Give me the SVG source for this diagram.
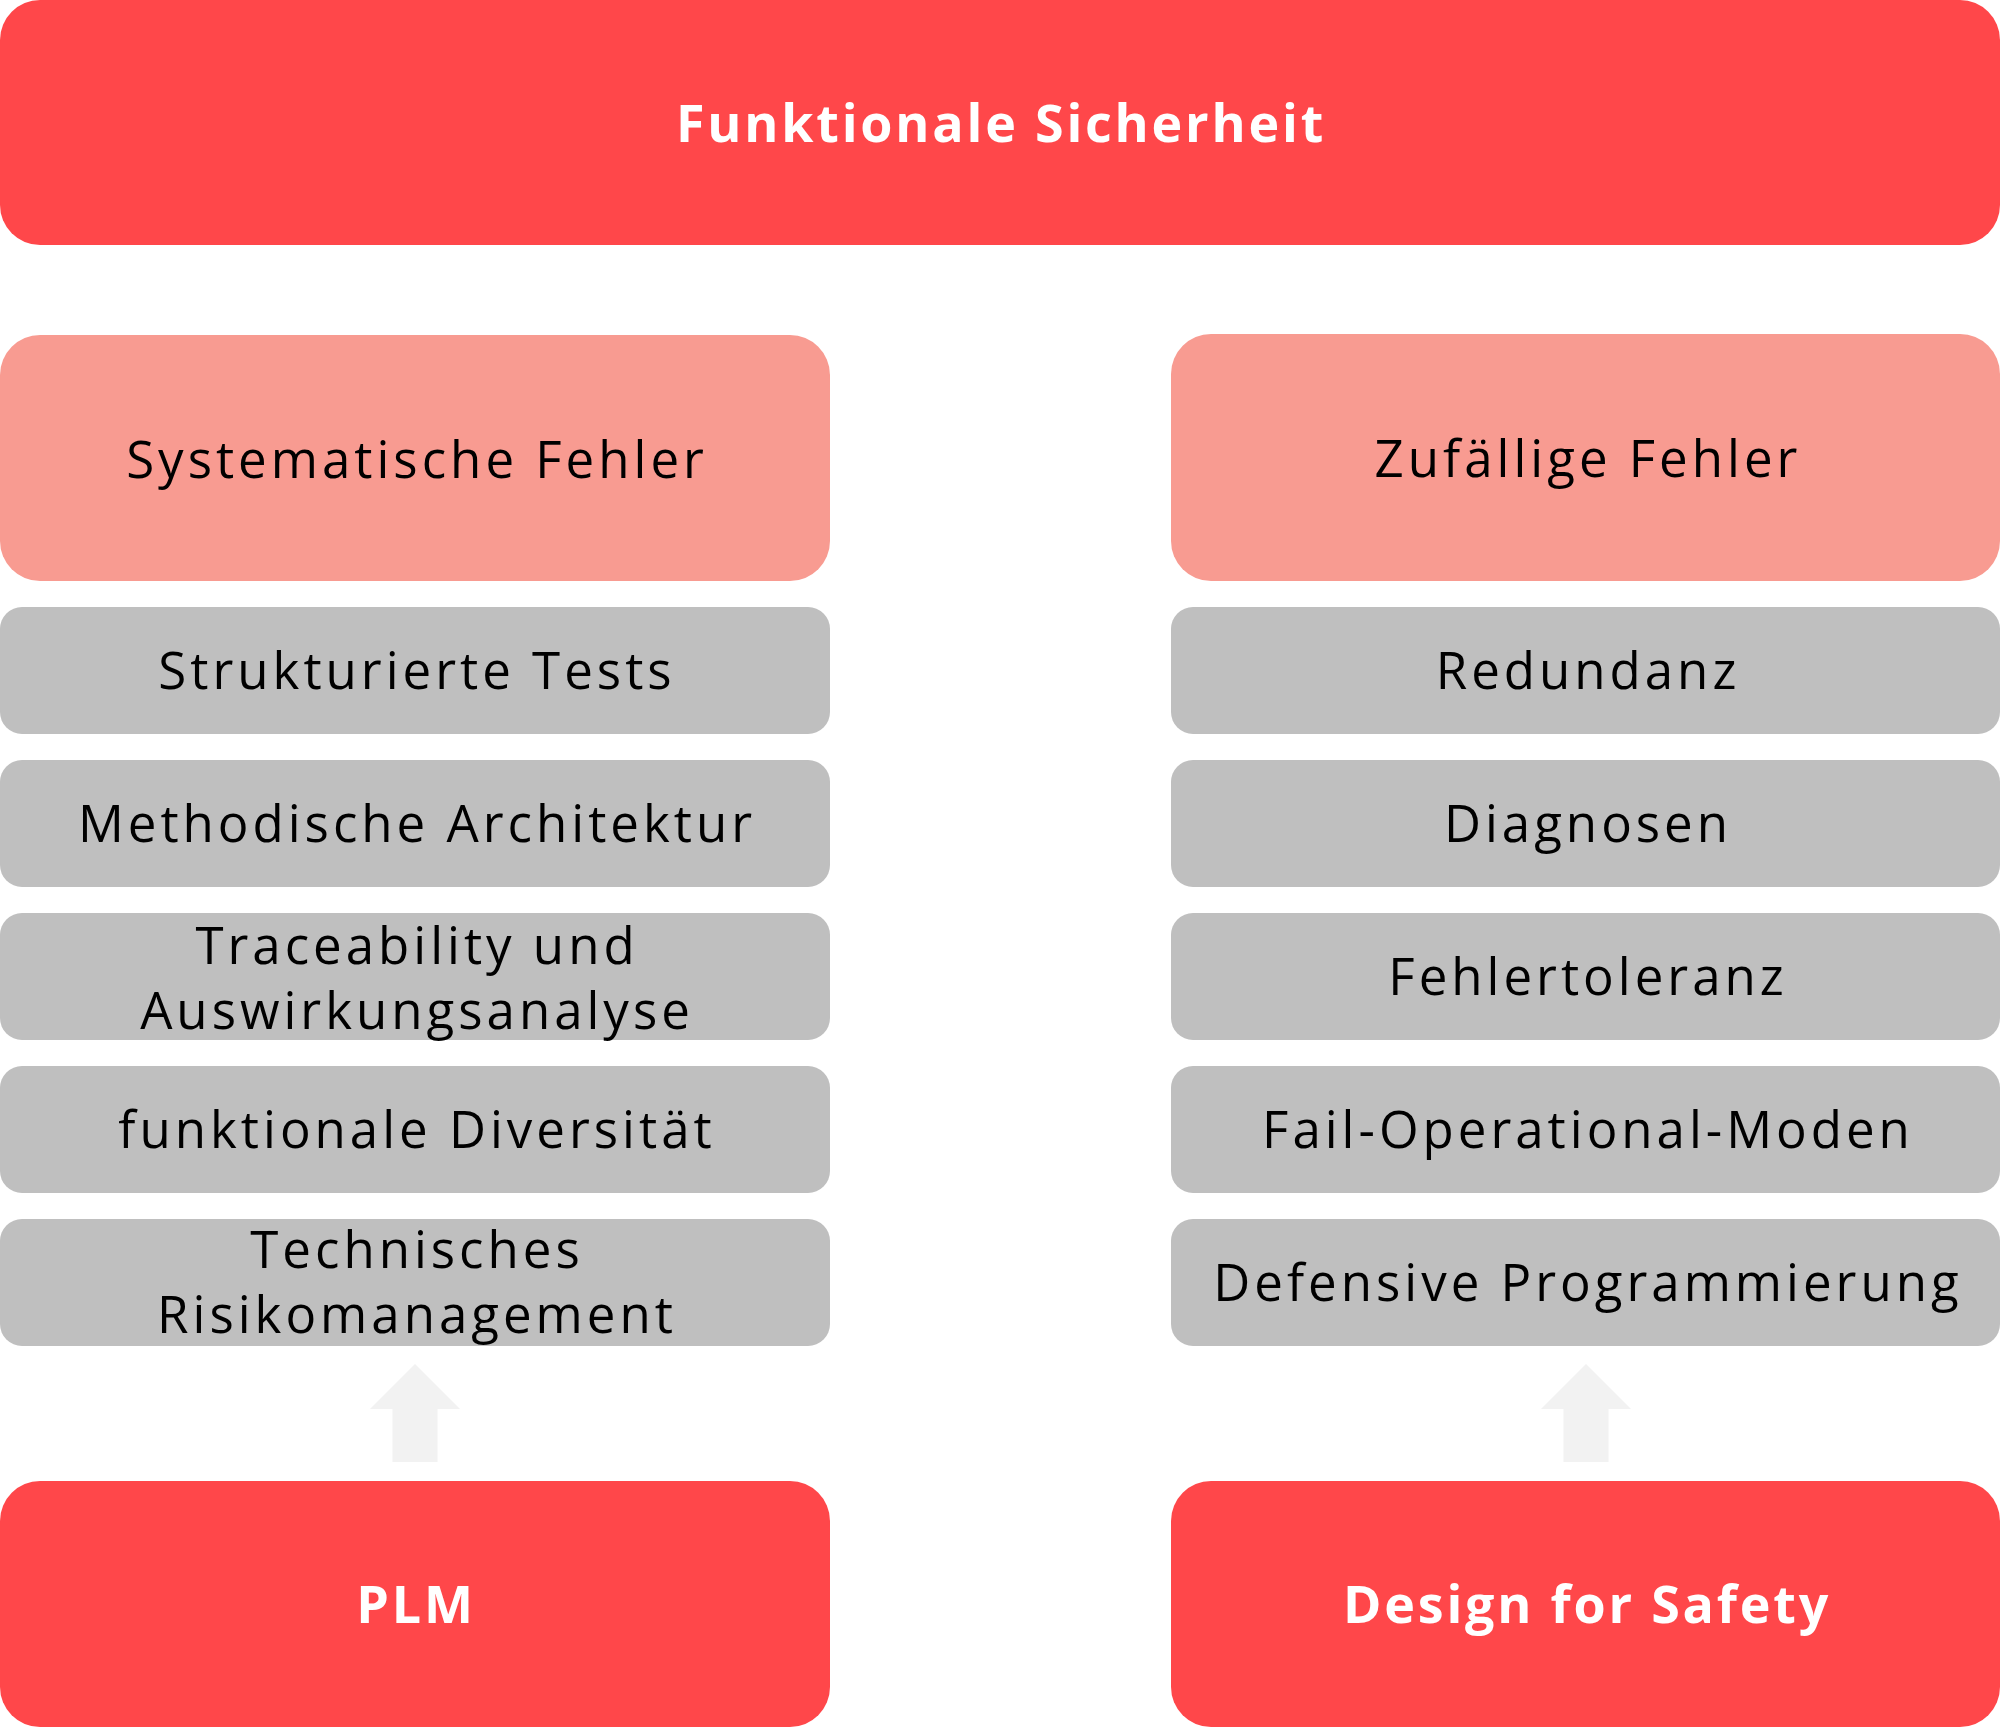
<svg xmlns="http://www.w3.org/2000/svg" width="2000" height="1727" viewBox="0 0 2000 1727">
<style>
.red{fill:#FF474A}
.pink{fill:#F89B91}
.gray{fill:#BFBFBF}
.arrow{fill:#F2F2F2}
.t{font-family:"Open Sans","Liberation Sans",sans-serif;font-size:51px;letter-spacing:4px;fill:#000;text-anchor:middle}
.b{font-family:"Open Sans","Liberation Sans",sans-serif;font-size:52px;font-weight:bold;letter-spacing:2.8px;fill:#fff;text-anchor:middle}
</style>
<rect width="2000" height="1727" fill="#fff"/>
<g id="connectors">
<polygon class="arrow" points="415,1364 460,1409 437.5,1409 437.5,1462 392.5,1462 392.5,1409 370,1409"/>
<polygon class="arrow" points="1586,1364 1631,1409 1608.5,1409 1608.5,1462 1563.5,1462 1563.5,1409 1541,1409"/>
</g>
<g id="funktionale-sicherheit"><rect class="red" x="0" y="0" width="2000" height="245" rx="40"/><text class="b" x="1001" y="142">Funktionale Sicherheit</text></g>
<g id="systematische-fehler"><rect class="pink" x="0" y="335" width="830" height="246" rx="40"/><text class="t" x="417" y="478">Systematische Fehler</text></g>
<g id="zufaellige-fehler"><rect class="pink" x="1171" y="334" width="829" height="247" rx="40"/><text class="t" x="1588" y="477">Zufällige Fehler</text></g>
<g id="strukturierte-tests"><rect class="gray" x="0" y="607" width="830" height="127" rx="22"/><text class="t" x="417" y="689">Strukturierte Tests</text></g>
<g id="methodische-architektur"><rect class="gray" x="0" y="760" width="830" height="127" rx="22"/><text class="t" x="417" y="842">Methodische Architektur</text></g>
<g id="traceability"><rect class="gray" x="0" y="913" width="830" height="127" rx="22"/><text class="t" x="417" y="964">Traceability und</text><text class="t" x="417" y="1029">Auswirkungsanalyse</text></g>
<g id="funktionale-diversitaet"><rect class="gray" x="0" y="1066" width="830" height="127" rx="22"/><text class="t" x="417" y="1148">funktionale Diversität</text></g>
<g id="technisches-risikomanagement"><rect class="gray" x="0" y="1219" width="830" height="127" rx="22"/><text class="t" x="417" y="1268">Technisches</text><text class="t" x="417" y="1333">Risikomanagement</text></g>
<g id="redundanz"><rect class="gray" x="1171" y="607" width="829" height="127" rx="22"/><text class="t" x="1588" y="689">Redundanz</text></g>
<g id="diagnosen"><rect class="gray" x="1171" y="760" width="829" height="127" rx="22"/><text class="t" x="1588" y="842">Diagnosen</text></g>
<g id="fehlertoleranz"><rect class="gray" x="1171" y="913" width="829" height="127" rx="22"/><text class="t" x="1588" y="995">Fehlertoleranz</text></g>
<g id="fail-operational-moden"><rect class="gray" x="1171" y="1066" width="829" height="127" rx="22"/><text class="t" x="1588" y="1148">Fail-Operational-Moden</text></g>
<g id="defensive-programmierung"><rect class="gray" x="1171" y="1219" width="829" height="127" rx="22"/><text class="t" x="1588" y="1301">Defensive Programmierung</text></g>
<g id="plm"><rect class="red" x="0" y="1481" width="830" height="246" rx="40"/><text class="b" x="416" y="1623">PLM</text></g>
<g id="design-for-safety"><rect class="red" x="1171" y="1481" width="829" height="246" rx="40"/><text class="b" x="1587" y="1623">Design for Safety</text></g>
</svg>
